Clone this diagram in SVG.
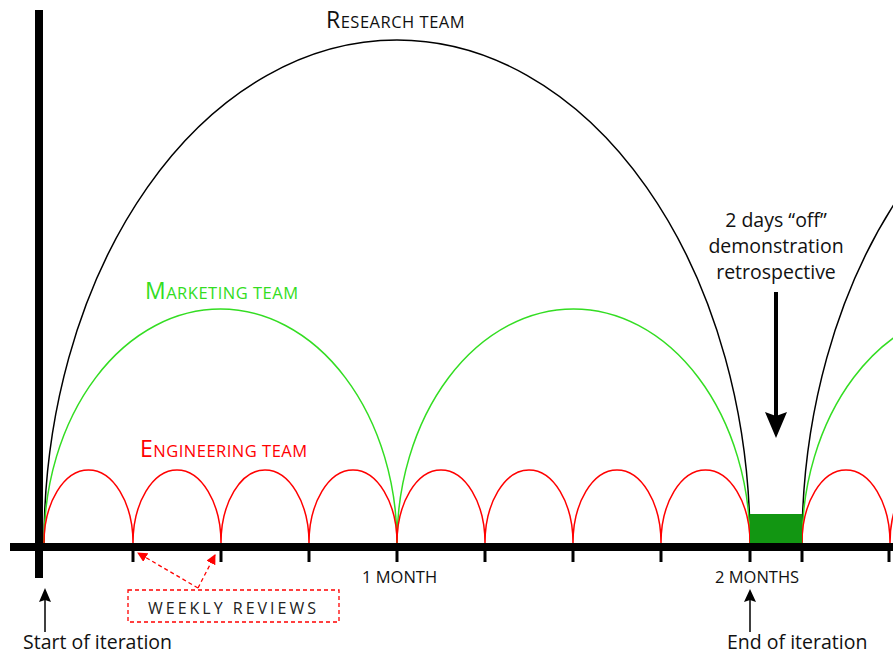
<svg xmlns="http://www.w3.org/2000/svg" width="893" height="656" viewBox="0 0 893 656">
<style>
text{font-family:"Open Sans","Noto Sans","Liberation Sans",sans-serif}
.arc{fill:none;stroke-width:1.5}
.r{stroke:#ff0000}
.g{stroke:#33dd22}
.k{stroke:#000}
.lbl{font-size:19.5px;fill:#111}
.ttl{font-size:23px;letter-spacing:0.5px}
.sc{font-size:16.5px}
.tick{stroke:#000;stroke-width:3}
</style>
<defs>
<marker id="rh" viewBox="0 0 10 10" refX="9" refY="5" markerWidth="10" markerHeight="10" markerUnits="userSpaceOnUse" orient="auto">
<path d="M0,0 L10,5 L0,10 Z" fill="#ff0000"/>
</marker>
</defs>
<g id="research-team">
<path class="arc k" d="M44,543 A353,503 0 0 1 750,543"/>
<path class="arc k" d="M802,543 A353,503 0 0 1 1508,543"/>
<text class="ttl" x="326" y="28" fill="#111">R<tspan class="sc">ESEARCH TEAM</tspan></text>
</g>
<g id="marketing-team">
<path class="arc g" d="M44,543 A176.5,234 0 0 1 397,543"/>
<path class="arc g" d="M397,543 A176.5,234 0 0 1 750,543"/>
<path class="arc g" d="M802,543 A176.5,234 0 0 1 1155,543"/>
<text class="ttl" x="145" y="299" fill="#33dd22">M<tspan class="sc">ARKETING TEAM</tspan></text>
</g>
<g id="engineering-team">
<path class="arc r" d="M44,543 A44.5,73 0 0 1 133,543 A44,73 0 0 1 221,543 A44,73 0 0 1 309,543 A44,73 0 0 1 397,543 A44,73 0 0 1 485,543 A44,73 0 0 1 573,543 A44,73 0 0 1 661,543 A44.5,73 0 0 1 750,543"/>
<path class="arc r" d="M802,543 A44,73 0 0 1 890,543 A44,73 0 0 1 978,543"/>
<text class="ttl" x="140" y="457" fill="#ff0000">E<tspan class="sc">NGINEERING TEAM</tspan></text>
</g>
<g id="off-days">
<rect x="750" y="514" width="52" height="29" fill="#129612"/>
<text class="lbl" text-anchor="middle"><tspan x="776" y="227">2 days “off”</tspan><tspan x="776" y="253">demonstration</tspan><tspan x="776" y="279">retrospective</tspan></text>
</g>
<g id="axes">
<rect x="35" y="10" width="8" height="568" fill="#000"/>
<rect x="10" y="543" width="883" height="8" fill="#000"/>
<line class="tick" x1="133" y1="549" x2="133" y2="562"/>
<line class="tick" x1="221" y1="549" x2="221" y2="562"/>
<line class="tick" x1="309" y1="549" x2="309" y2="562"/>
<line class="tick" x1="397" y1="549" x2="397" y2="562"/>
<line class="tick" x1="485" y1="549" x2="485" y2="562"/>
<line class="tick" x1="573" y1="549" x2="573" y2="562"/>
<line class="tick" x1="661" y1="549" x2="661" y2="562"/>
<line class="tick" x1="750" y1="549" x2="750" y2="562"/>
<line class="tick" x1="802" y1="549" x2="802" y2="562"/>
<line class="tick" x1="889" y1="549" x2="889" y2="562"/>
<text x="362" y="583" font-size="16.5" fill="#111">1 MONTH</text>
<text x="715" y="583" font-size="16.5" fill="#111">2 MONTHS</text>
</g>
<g id="weekly-reviews">
<rect x="128" y="590" width="211" height="32" fill="none" stroke="#ff0000" stroke-width="1.3" stroke-dasharray="4,3"/>
<text x="233.5" y="614" font-size="16" fill="#222" text-anchor="middle" letter-spacing="3">WEEKLY REVIEWS</text>
</g>
<g id="start-label">
<text class="lbl" x="23" y="649">Start of iteration</text>
</g>
<g id="end-label">
<text class="lbl" x="727" y="649">End of iteration</text>
</g>
<g id="connectors">
<line x1="198" y1="588" x2="138" y2="553" stroke="#ff0000" stroke-width="1.3" stroke-dasharray="4,3" marker-end="url(#rh)"/>
<line x1="198" y1="588" x2="215" y2="555" stroke="#ff0000" stroke-width="1.3" stroke-dasharray="4,3" marker-end="url(#rh)"/>
<line x1="776" y1="292" x2="776" y2="418" stroke="#000" stroke-width="4"/>
<path d="M765,412 L776,416 L787,412 L776,438 Z" fill="#000"/>
<line x1="45" y1="632" x2="45" y2="598" stroke="#000" stroke-width="1.5"/>
<path d="M39,602 L45,600 L51,602 L45,588 Z" fill="#000"/>
<line x1="750" y1="632" x2="750" y2="598" stroke="#000" stroke-width="1.5"/>
<path d="M744,602 L750,600 L756,602 L750,589 Z" fill="#000"/>
</g>
</svg>
